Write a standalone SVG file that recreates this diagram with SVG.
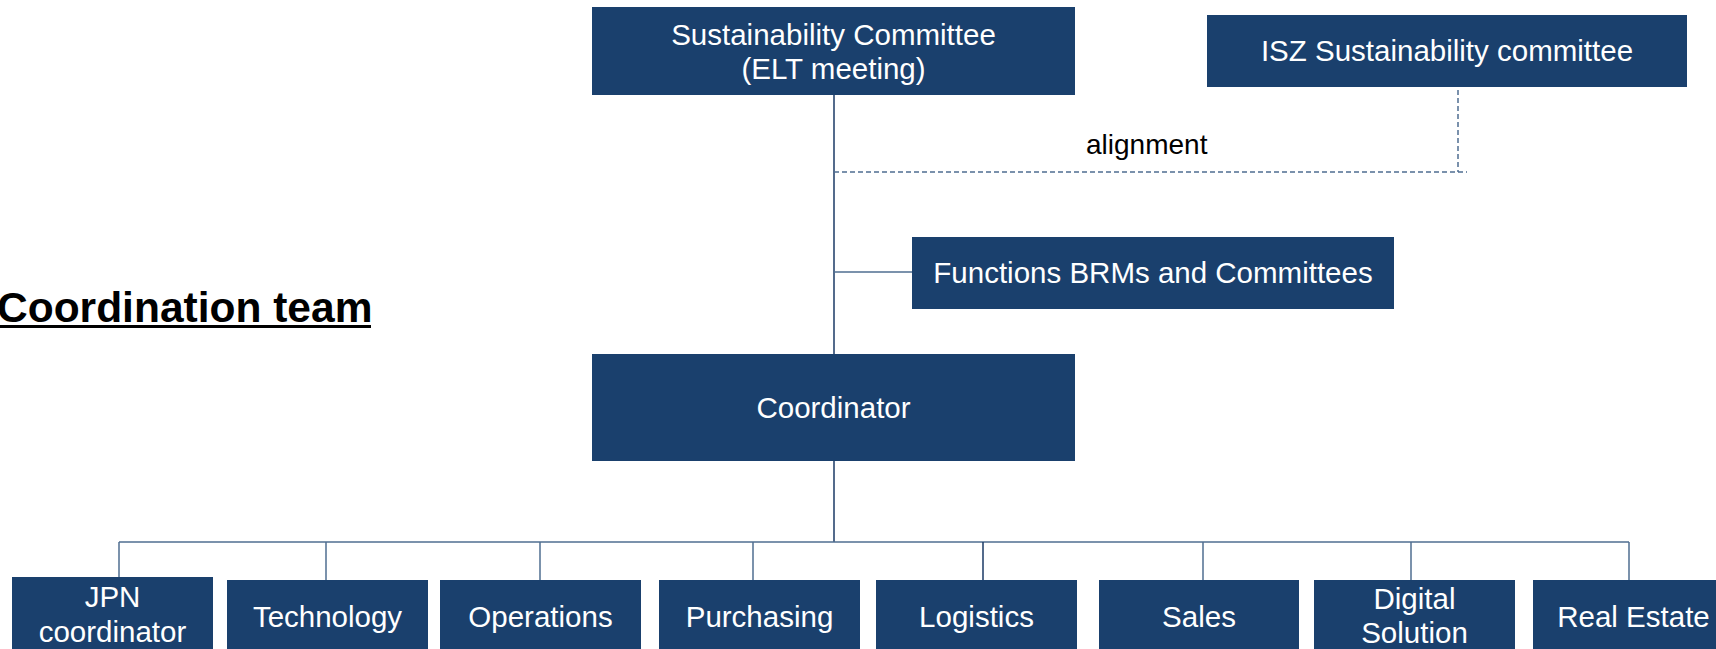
<svg xmlns="http://www.w3.org/2000/svg" width="1716" height="649" viewBox="0 0 1716 649">
<style>
.box{fill:#1a406d}
.t{font-family:"Liberation Sans",Arial,sans-serif;font-size:29.5px;fill:#ffffff;text-anchor:middle}
.ln{stroke:#1b3a66;stroke-width:1.5;fill:none}
.ln2{stroke:#4f6e91;stroke-width:1.5;fill:none}
.dash{stroke:#4f6e91;stroke-width:1.5;fill:none;stroke-dasharray:5 3}
</style>
<rect width="1716" height="649" fill="#ffffff"/>
<g id="connectors">
<line class="ln" x1="834" y1="95" x2="834" y2="354"/>
<line class="dash" x1="1458" y1="90" x2="1458" y2="172"/>
<line class="dash" x1="834" y1="172" x2="1467" y2="172"/>
<line class="ln2" x1="834" y1="272" x2="912" y2="272"/>
<line class="ln" x1="834" y1="461" x2="834" y2="542"/>
<line class="ln2" x1="119" y1="542" x2="1629" y2="542"/>
<line class="ln2" x1="119" y1="542" x2="119" y2="577"/>
<line class="ln2" x1="326" y1="542" x2="326" y2="580"/>
<line class="ln2" x1="540" y1="542" x2="540" y2="580"/>
<line class="ln2" x1="753" y1="542" x2="753" y2="580"/>
<line class="ln" x1="983" y1="542" x2="983" y2="580"/>
<line class="ln2" x1="1203" y1="542" x2="1203" y2="580"/>
<line class="ln2" x1="1411" y1="542" x2="1411" y2="580"/>
<line class="ln2" x1="1629" y1="542" x2="1629" y2="580"/>
<text x="1086" y="154" font-family="Liberation Sans, Arial, sans-serif" font-size="28" fill="#000000">alignment</text>
</g>
<g id="title">
<text x="-3" y="322" font-family="Liberation Sans, Arial, sans-serif" font-size="42.5" font-weight="bold" fill="#000000">Coordination team</text>
<rect x="0" y="325" width="371" height="3" fill="#000000"/>
</g>
<g id="n-sc">
<rect class="box" x="592" y="7" width="483" height="88"/>
<text class="t" x="833.5" y="45">Sustainability Committee</text>
<text class="t" x="833.5" y="79">(ELT meeting)</text>
</g>
<g id="n-isz">
<rect class="box" x="1207" y="15" width="480" height="72"/>
<text class="t" x="1447" y="61">ISZ Sustainability committee</text>
</g>
<g id="n-func">
<rect class="box" x="912" y="237" width="482" height="72"/>
<text class="t" x="1153" y="283">Functions BRMs and Committees</text>
</g>
<g id="n-coord">
<rect class="box" x="592" y="354" width="483" height="107"/>
<text class="t" x="833.5" y="418">Coordinator</text>
</g>
<g id="n-jpn">
<rect class="box" x="12" y="577" width="201" height="80"/>
<text class="t" x="112.5" y="607">JPN</text>
<text class="t" x="112.5" y="642">coordinator</text>
</g>
<g id="n-tech">
<rect class="box" x="227" y="580" width="201" height="80"/>
<text class="t" x="327.5" y="627">Technology</text>
</g>
<g id="n-ops">
<rect class="box" x="440" y="580" width="201" height="80"/>
<text class="t" x="540.5" y="627">Operations</text>
</g>
<g id="n-pur">
<rect class="box" x="659" y="580" width="201" height="80"/>
<text class="t" x="759.5" y="627">Purchasing</text>
</g>
<g id="n-log">
<rect class="box" x="876" y="580" width="201" height="80"/>
<text class="t" x="976.5" y="627">Logistics</text>
</g>
<g id="n-sales">
<rect class="box" x="1099" y="580" width="200" height="80"/>
<text class="t" x="1199" y="627">Sales</text>
</g>
<g id="n-dig">
<rect class="box" x="1314" y="580" width="201" height="80"/>
<text class="t" x="1414.5" y="609">Digital</text>
<text class="t" x="1414.5" y="643">Solution</text>
</g>
<g id="n-re">
<rect class="box" x="1533" y="580" width="201" height="80"/>
<text class="t" x="1633.5" y="627">Real Estate</text>
</g>
</svg>
